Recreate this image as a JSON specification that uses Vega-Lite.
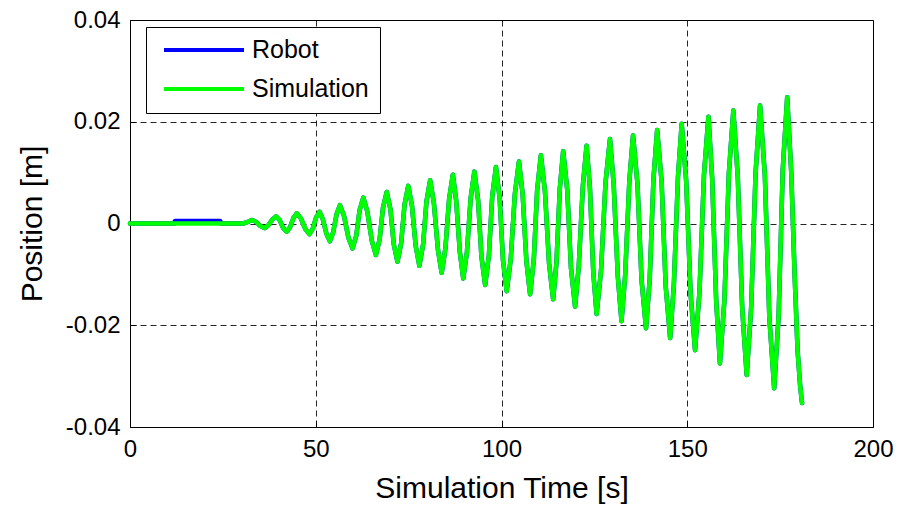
{
  "$schema": "https://vega.github.io/schema/vega-lite/v6.json",
  "width": 743,
  "height": 407,
  "autosize": {"type": "none"},
  "padding": {"left": 130, "top": 20, "right": 39, "bottom": 78},
  "background": "white",
  "config": {
    "font": "Liberation Sans",
    "view": {"stroke": "black", "strokeWidth": 1},
    "axis": {
      "domain": true,
      "domainColor": "black",
      "labelFontSize": 24,
      "labelColor": "black",
      "labelFont": "Liberation Sans",
      "titleFont": "Liberation Sans",
      "titleFontSize": 30,
      "titleFontWeight": "normal",
      "titleColor": "black",
      "grid": true,
      "gridDash": [6, 4],
      "gridColor": "black",
      "gridOpacity": 0.85,
      "gridWidth": 1,
      "ticks": true,
      "tickSize": -6,
      "tickColor": "black",
      "labelPadding": 16,
      "labelFlush": false,
      "labelOverlap": false
    },
    "legend": {
      "labelFont": "Liberation Sans"
    }
  },
  "data": {
    "values": [
      {"t": 0, "Robot": 0, "Simulation": 0},
      {"t": 11.9, "Robot": 0, "Simulation": 0},
      {"t": 12.1, "Robot": 0.0005, "Simulation": 0},
      {"t": 24.3, "Robot": 0.0005, "Simulation": 0},
      {"t": 24.5, "Robot": 0, "Simulation": 0},
      {"t": 30.5, "Robot": 0, "Simulation": 0},
      {"t": 31.7, "Robot": 0.0003, "Simulation": 0.0003},
      {"t": 32.8, "Robot": 0.0007, "Simulation": 0.0007},
      {"t": 34.0, "Robot": 0.0003, "Simulation": 0.0003},
      {"t": 35.1, "Robot": -0.0005, "Simulation": -0.0005},
      {"t": 36.3, "Robot": -0.0009, "Simulation": -0.0009},
      {"t": 37.3, "Robot": -0.0003, "Simulation": -0.0003},
      {"t": 38.3, "Robot": 0.0008, "Simulation": 0.0008},
      {"t": 39.3, "Robot": 0.0014, "Simulation": 0.0014},
      {"t": 40.3, "Robot": 0.00065, "Simulation": 0.00065},
      {"t": 41.2, "Robot": -0.00085, "Simulation": -0.00085},
      {"t": 42.2, "Robot": -0.0016, "Simulation": -0.0016},
      {"t": 43.1, "Robot": -0.0007, "Simulation": -0.0007},
      {"t": 44.0, "Robot": 0.0011, "Simulation": 0.0011},
      {"t": 44.9, "Robot": 0.002, "Simulation": 0.002},
      {"t": 46.0, "Robot": 0.001, "Simulation": 0.001},
      {"t": 47.2, "Robot": -0.0011, "Simulation": -0.0011},
      {"t": 48.3, "Robot": -0.0021, "Simulation": -0.0021},
      {"t": 49.2, "Robot": -0.001, "Simulation": -0.001},
      {"t": 50.1, "Robot": 0.0012, "Simulation": 0.0012},
      {"t": 51.0, "Robot": 0.0023, "Simulation": 0.0023},
      {"t": 51.9, "Robot": 0.00085, "Simulation": 0.00085},
      {"t": 52.9, "Robot": -0.00205, "Simulation": -0.00205},
      {"t": 53.8, "Robot": -0.0035, "Simulation": -0.0035},
      {"t": 54.7, "Robot": -0.0017, "Simulation": -0.0017},
      {"t": 55.6, "Robot": 0.0018, "Simulation": 0.0018},
      {"t": 56.5, "Robot": 0.0036, "Simulation": 0.0036},
      {"t": 57.6, "Robot": 0.0015, "Simulation": 0.0015},
      {"t": 58.8, "Robot": -0.0028, "Simulation": -0.0028},
      {"t": 59.9, "Robot": -0.0049, "Simulation": -0.0049},
      {"t": 60.9, "Robot": -0.0024, "Simulation": -0.0024},
      {"t": 61.8, "Robot": 0.0026, "Simulation": 0.0026},
      {"t": 62.8, "Robot": 0.0051, "Simulation": 0.0051},
      {"t": 63.9, "Robot": 0.0023, "Simulation": 0.0023},
      {"t": 65.1, "Robot": -0.0034, "Simulation": -0.0034},
      {"t": 66.2, "Robot": -0.0062, "Simulation": -0.0062},
      {"t": 67.2, "Robot": -0.0031, "Simulation": -0.0031},
      {"t": 68.1, "Robot": 0.0031, "Simulation": 0.0031},
      {"t": 69.1, "Robot": 0.0062, "Simulation": 0.0062},
      {"t": 70.1, "Robot": 0.0028, "Simulation": 0.0028},
      {"t": 71.0, "Robot": -0.0041, "Simulation": -0.0041},
      {"t": 72.0, "Robot": -0.0075, "Simulation": -0.0075},
      {"t": 73.0, "Robot": -0.0038, "Simulation": -0.0038},
      {"t": 73.9, "Robot": 0.0037, "Simulation": 0.0037},
      {"t": 74.9, "Robot": 0.0074, "Simulation": 0.0074},
      {"t": 75.9, "Robot": 0.0035, "Simulation": 0.0035},
      {"t": 76.9, "Robot": -0.0044, "Simulation": -0.0044},
      {"t": 77.9, "Robot": -0.0083, "Simulation": -0.0083},
      {"t": 78.9, "Robot": -0.0041, "Simulation": -0.0041},
      {"t": 79.8, "Robot": 0.0043, "Simulation": 0.0043},
      {"t": 80.8, "Robot": 0.0085, "Simulation": 0.0085},
      {"t": 81.8, "Robot": 0.004, "Simulation": 0.004},
      {"t": 82.9, "Robot": -0.0052, "Simulation": -0.0052},
      {"t": 83.9, "Robot": -0.0097, "Simulation": -0.0097},
      {"t": 84.9, "Robot": -0.0049, "Simulation": -0.0049},
      {"t": 85.9, "Robot": 0.0048, "Simulation": 0.0048},
      {"t": 86.9, "Robot": 0.0096, "Simulation": 0.0096},
      {"t": 87.8, "Robot": 0.0045, "Simulation": 0.0045},
      {"t": 88.8, "Robot": -0.0057, "Simulation": -0.0057},
      {"t": 89.7, "Robot": -0.0108, "Simulation": -0.0108},
      {"t": 90.7, "Robot": -0.0056, "Simulation": -0.0056},
      {"t": 91.7, "Robot": 0.005, "Simulation": 0.005},
      {"t": 92.7, "Robot": 0.0102, "Simulation": 0.0102},
      {"t": 93.7, "Robot": 0.0046, "Simulation": 0.0046},
      {"t": 94.6, "Robot": -0.0065, "Simulation": -0.0065},
      {"t": 95.6, "Robot": -0.0121, "Simulation": -0.0121},
      {"t": 96.6, "Robot": -0.0063, "Simulation": -0.0063},
      {"t": 97.5, "Robot": 0.0053, "Simulation": 0.0053},
      {"t": 98.5, "Robot": 0.0111, "Simulation": 0.0111},
      {"t": 99.5, "Robot": 0.005, "Simulation": 0.005},
      {"t": 100.4, "Robot": -0.0072, "Simulation": -0.0072},
      {"t": 101.4, "Robot": -0.0133, "Simulation": -0.0133},
      {"t": 102.5, "Robot": -0.0069, "Simulation": -0.0069},
      {"t": 103.6, "Robot": 0.0058, "Simulation": 0.0058},
      {"t": 104.7, "Robot": 0.0122, "Simulation": 0.0122},
      {"t": 105.7, "Robot": 0.0057, "Simulation": 0.0057},
      {"t": 106.7, "Robot": -0.0074, "Simulation": -0.0074},
      {"t": 107.7, "Robot": -0.0139, "Simulation": -0.0139},
      {"t": 108.7, "Robot": -0.0071, "Simulation": -0.0071},
      {"t": 109.6, "Robot": 0.0066, "Simulation": 0.0066},
      {"t": 110.6, "Robot": 0.0134, "Simulation": 0.0134},
      {"t": 111.7, "Robot": 0.0063, "Simulation": 0.0063},
      {"t": 112.8, "Robot": -0.0078, "Simulation": -0.0078},
      {"t": 113.9, "Robot": -0.0149, "Simulation": -0.0149},
      {"t": 114.8, "Robot": -0.0076, "Simulation": -0.0076},
      {"t": 115.7, "Robot": 0.0069, "Simulation": 0.0069},
      {"t": 116.6, "Robot": 0.0142, "Simulation": 0.0142},
      {"t": 117.7, "Robot": 0.0066, "Simulation": 0.0066},
      {"t": 118.7, "Robot": -0.0087, "Simulation": -0.0087},
      {"t": 119.8, "Robot": -0.0163, "Simulation": -0.0163},
      {"t": 120.8, "Robot": -0.0084, "Simulation": -0.0084},
      {"t": 121.9, "Robot": 0.0074, "Simulation": 0.0074},
      {"t": 122.9, "Robot": 0.0153, "Simulation": 0.0153},
      {"t": 123.8, "Robot": 0.007, "Simulation": 0.007},
      {"t": 124.7, "Robot": -0.0095, "Simulation": -0.0095},
      {"t": 125.6, "Robot": -0.0178, "Simulation": -0.0178},
      {"t": 126.8, "Robot": -0.0092, "Simulation": -0.0092},
      {"t": 128.0, "Robot": 0.008, "Simulation": 0.008},
      {"t": 129.2, "Robot": 0.0166, "Simulation": 0.0166},
      {"t": 130.2, "Robot": 0.0077, "Simulation": 0.0077},
      {"t": 131.3, "Robot": -0.0103, "Simulation": -0.0103},
      {"t": 132.3, "Robot": -0.0192, "Simulation": -0.0192},
      {"t": 133.3, "Robot": -0.0101, "Simulation": -0.0101},
      {"t": 134.4, "Robot": 0.0082, "Simulation": 0.0082},
      {"t": 135.4, "Robot": 0.0173, "Simulation": 0.0173},
      {"t": 136.6, "Robot": 0.0078, "Simulation": 0.0078},
      {"t": 137.7, "Robot": -0.0111, "Simulation": -0.0111},
      {"t": 138.9, "Robot": -0.0206, "Simulation": -0.0206},
      {"t": 139.9, "Robot": -0.0109, "Simulation": -0.0109},
      {"t": 140.9, "Robot": 0.0087, "Simulation": 0.0087},
      {"t": 141.9, "Robot": 0.0184, "Simulation": 0.0184},
      {"t": 143.1, "Robot": 0.0082, "Simulation": 0.0082},
      {"t": 144.2, "Robot": -0.0123, "Simulation": -0.0123},
      {"t": 145.4, "Robot": -0.0225, "Simulation": -0.0225},
      {"t": 146.4, "Robot": -0.012, "Simulation": -0.012},
      {"t": 147.5, "Robot": 0.0091, "Simulation": 0.0091},
      {"t": 148.5, "Robot": 0.0196, "Simulation": 0.0196},
      {"t": 149.7, "Robot": 0.0085, "Simulation": 0.0085},
      {"t": 150.9, "Robot": -0.0138, "Simulation": -0.0138},
      {"t": 152.1, "Robot": -0.0249, "Simulation": -0.0249},
      {"t": 153.3, "Robot": -0.0134, "Simulation": -0.0134},
      {"t": 154.5, "Robot": 0.0095, "Simulation": 0.0095},
      {"t": 155.7, "Robot": 0.021, "Simulation": 0.021},
      {"t": 156.7, "Robot": 0.0089, "Simulation": 0.0089},
      {"t": 157.8, "Robot": -0.0154, "Simulation": -0.0154},
      {"t": 158.8, "Robot": -0.0275, "Simulation": -0.0275},
      {"t": 160.0, "Robot": -0.0151, "Simulation": -0.0151},
      {"t": 161.2, "Robot": 0.0098, "Simulation": 0.0098},
      {"t": 162.4, "Robot": 0.0222, "Simulation": 0.0222},
      {"t": 163.6, "Robot": 0.0092, "Simulation": 0.0092},
      {"t": 164.8, "Robot": -0.0168, "Simulation": -0.0168},
      {"t": 166.0, "Robot": -0.0298, "Simulation": -0.0298},
      {"t": 167.2, "Robot": -0.0166, "Simulation": -0.0166},
      {"t": 168.4, "Robot": 0.01, "Simulation": 0.01},
      {"t": 169.6, "Robot": 0.0232, "Simulation": 0.0232},
      {"t": 170.9, "Robot": 0.0093, "Simulation": 0.0093},
      {"t": 172.1, "Robot": -0.0185, "Simulation": -0.0185},
      {"t": 173.4, "Robot": -0.0324, "Simulation": -0.0324},
      {"t": 174.6, "Robot": -0.0181, "Simulation": -0.0181},
      {"t": 175.7, "Robot": 0.0105, "Simulation": 0.0105},
      {"t": 176.9, "Robot": 0.0248, "Simulation": 0.0248},
      {"t": 178.0, "Robot": 0.01, "Simulation": 0.01},
      {"t": 178.9, "Robot": -0.01, "Simulation": -0.01},
      {"t": 179.7, "Robot": -0.025, "Simulation": -0.025},
      {"t": 180.4, "Robot": -0.032, "Simulation": -0.032},
      {"t": 180.9, "Robot": -0.0353, "Simulation": -0.0353}
    ]
  },
  "transform": [{"fold": ["Robot", "Simulation"], "as": ["series", "y"]}],
  "mark": {"type": "line", "interpolate": "linear", "strokeWidth": 4.5, "strokeJoin": "round", "strokeCap": "round"},
  "encoding": {
    "x": {
      "field": "t",
      "type": "quantitative",
      "scale": {"domain": [0, 200], "nice": false, "zero": false},
      "axis": {"values": [0, 50, 100, 150, 200], "format": "d", "title": "Simulation Time [s]", "titlePadding": 12}
    },
    "y": {
      "field": "y",
      "type": "quantitative",
      "scale": {"domain": [-0.04, 0.04], "nice": false},
      "axis": {
        "values": [-0.04, -0.02, 0, 0.02, 0.04],
        "labelExpr": "datum.value == 0 ? '0' : (datum.value < 0 ? '-' : '') + format(abs(datum.value), '.2f')",
        "title": "Position [m]",
        "titlePadding": 18
      }
    },
    "color": {
      "field": "series",
      "type": "nominal",
      "scale": {"domain": ["Robot", "Simulation"], "range": ["#0000ff", "#00ff00"]},
      "legend": {
        "orient": "none",
        "legendX": 16,
        "legendY": 7,
        "title": null,
        "symbolType": "stroke",
        "symbolSize": 6400,
        "symbolStrokeWidth": 4,
        "symbolOffset": 5,
        "labelOffset": 6,
        "labelFontSize": 25,
        "labelColor": "black",
        "clipHeight": 24,
        "padding": 11,
        "rowPadding": 14,
        "strokeColor": "black",
        "fillColor": "white"
      }
    }
  }
}
